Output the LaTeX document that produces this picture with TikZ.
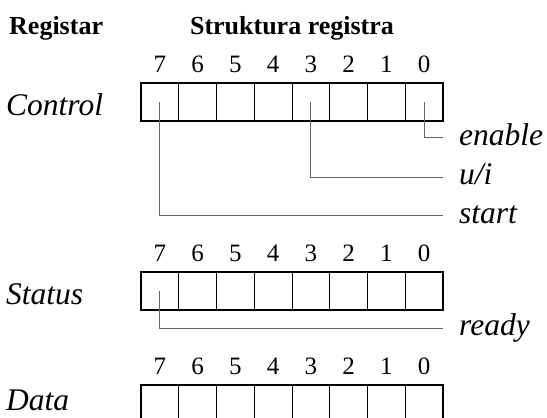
\documentclass[tikz,border=0pt]{standalone}
\usepackage{fontspec}
\setmainfont{Liberation Serif}
\usetikzlibrary{positioning}
\tikzset{
  bitcell/.style={draw, line width=1pt, minimum width=37.75pt, minimum height=37.75pt, inner sep=0pt, outer sep=0pt},
  regframe/.style={line width=2.2pt},
  bitno/.style={inner sep=0pt, anchor=base, font=\fontsize{25}{30}\selectfont},
  head/.style={inner sep=0pt, anchor=base, font=\fontsize{26}{30}\selectfont\bfseries},
  regname/.style={inner sep=0pt, anchor=base west, font=\fontsize{31.5}{36}\selectfont\itshape},
  flag/.style={inner xsep=16pt, inner ysep=0pt, anchor=west, text height=22pt, text depth=6pt, font=\fontsize{31.5}{36}\selectfont\itshape},
  wire/.style={line width=0.8pt, draw=black!60},
}
\begin{document}
\begin{tikzpicture}[x=1pt,y=1pt]
  \useasboundingbox (0,0) rectangle (547,418);
  \node[head, anchor=base west] (hreg) at (9,383) {Registar};
  \node[head] (hstr) at (292,383) {Struktura registra};
  % registers: cells, bit numbers, frame
  \foreach \r/\yc in {ctl/316, sts/127, dat/14} {
    \foreach \b [count=\k from 0] in {7,6,...,0} {
      \node[bitcell] (\r\b) at ({159.875+37.75*\k},\yc) {};
      \node[bitno] (\r n\b) at ({159.875+37.75*\k},\yc+29) {\b};
    }
    \draw[regframe] (\r7.north west) rectangle (\r0.south east);
  }
  \node[regname] (lctl) at (6,302) {Control};
  \node[regname] (lsts) at (6,113) {Status};
  \node[regname] (ldat) at (6,7) {Data};
  % flag bits
  \node[flag] (fen) at (443,280.5) {enable};
  \node[flag] (fui) at (443,241) {u/i};
  \node[flag] (fst) at (443,202.5) {start};
  \node[flag] (frd) at (443,90) {ready};
  \draw[wire] (ctl0.center) |- (fen.west);
  \draw[wire] (ctl3.center) |- (fui.west);
  \draw[wire] (ctl7.center) |- (fst.west);
  \draw[wire] (sts7.center) |- (frd.west);
\end{tikzpicture}
\end{document}
